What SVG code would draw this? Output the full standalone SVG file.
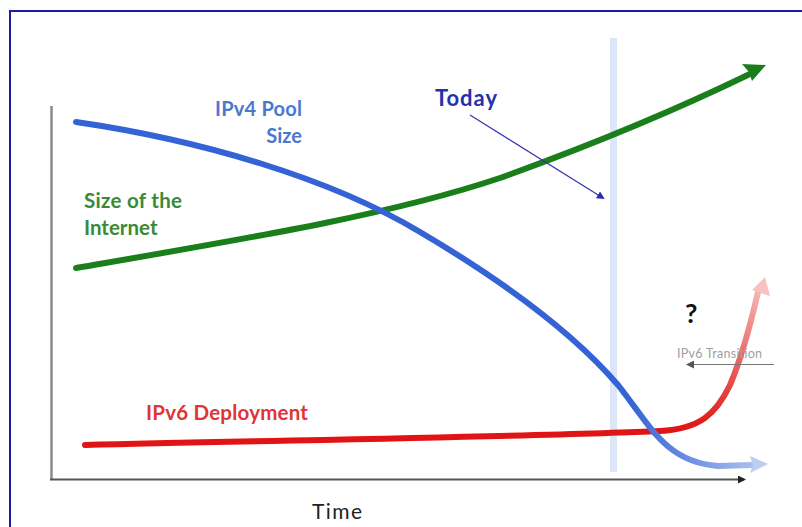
<svg xmlns="http://www.w3.org/2000/svg" width="802" height="527" viewBox="0 0 802 527">
<defs>
<style>
.lbl{font-family:Lato,"Open Sans","Liberation Sans",sans-serif;font-weight:bold}
.reg{font-family:Lato,"Open Sans","Liberation Sans",sans-serif}
.curve{fill:none;stroke-width:6;stroke-linecap:round}
</style>
<linearGradient id="gBlue" gradientUnits="userSpaceOnUse" x1="630" y1="0" x2="770" y2="0">
<stop offset="0" stop-color="#3563d6"/><stop offset="1" stop-color="#b9ccf2"/>
</linearGradient>
<linearGradient id="gRed" gradientUnits="userSpaceOnUse" x1="0" y1="430" x2="0" y2="280">
<stop offset="0" stop-color="#e01414"/><stop offset="1" stop-color="#f6c2c2"/>
</linearGradient>
<marker id="arrBlk" markerWidth="8" markerHeight="8" refX="6" refY="4" orient="auto" markerUnits="userSpaceOnUse"><path d="M0,0 L8,4 L0,8 z" fill="#222"/></marker>
<marker id="arrToday" markerWidth="8" markerHeight="8" refX="6" refY="4" orient="auto" markerUnits="userSpaceOnUse"><path d="M0,0 L8,4 L0,8 z" fill="#2b2bb0"/></marker>
<marker id="arrGray" markerWidth="8" markerHeight="8" refX="6" refY="4" orient="auto" markerUnits="userSpaceOnUse"><path d="M0,0 L8,4 L0,8 z" fill="#555"/></marker>
</defs>
<rect x="0" y="0" width="802" height="527" fill="#ffffff"/>
<rect x="10" y="11" width="800" height="530" fill="none" stroke="#1c1ca0" stroke-width="2"/>

<g id="today-band"><rect x="610" y="38" width="7" height="434" fill="#dce6f8"/></g>

<g id="axes">
<line x1="51.5" y1="106" x2="51.5" y2="480" stroke="#8a8a8a" stroke-width="2.5"/>
<line x1="50" y1="479.5" x2="744" y2="479.5" stroke="#555" stroke-width="2" marker-end="url(#arrBlk)"/>
</g>

<g id="connectors">
<path id="ipv6" class="curve" d="M85,445 C300,440 560,436 660,431 C700,429 716,414 730,385 C744,352 752,318 758,292" stroke="url(#gRed)"/>
<path d="M765,277 L770,296 L760,293 L752,290 z" fill="#f6c2c2"/>
<path id="green" class="curve" d="M76,268 C250,238 390,215 500,178 C600,142 680,108 752,73" stroke="#1a7f1a"/>
<path d="M766,65 L742,64 L749,72 L752,81 z" fill="#1a7f1a"/>
<path id="ipv4" class="curve" d="M76,122 C200,140 330,178 420,232 C510,285 575,335 618,385 C650,425 665,462 718,466 L752,465" stroke="url(#gBlue)"/>
<path d="M768,464 L750,456 L753,465 L750,473 z" fill="#bccdf2"/>
<line id="today-arrow" x1="470" y1="115" x2="603" y2="198" stroke="#3434b0" stroke-width="1.2" marker-end="url(#arrToday)"/>
<line id="transition-arrow" x1="774" y1="364.5" x2="688" y2="364.5" stroke="#777" stroke-width="1.2" marker-end="url(#arrGray)"/>
</g>

<g id="labels">
<text class="lbl" x="215" y="116" font-size="20" fill="#4a78cf" textLength="87">IPv4 Pool</text>
<text class="lbl" x="302" y="143" font-size="20" fill="#4a78cf" text-anchor="end">Size</text>
<text class="lbl" x="84" y="208" font-size="20.5" fill="#3a8a35" textLength="98">Size of the</text>
<text class="lbl" x="84" y="235" font-size="20.5" fill="#3a8a35">Internet</text>
<text class="lbl" x="146" y="420" font-size="20.5" fill="#e03535" textLength="162">IPv6 Deployment</text>
<text class="lbl" x="435" y="106" font-size="22" fill="#2233aa" textLength="62">Today</text>
<text class="lbl" x="685" y="323" font-size="27" fill="#111">?</text>
<text class="reg" x="677" y="358" font-size="12.5" fill="#a0a0a0" textLength="85">IPv6 Transition</text>
<text class="reg" x="312" y="519" font-size="21" fill="#222" textLength="50">Time</text>
</g>
</svg>
